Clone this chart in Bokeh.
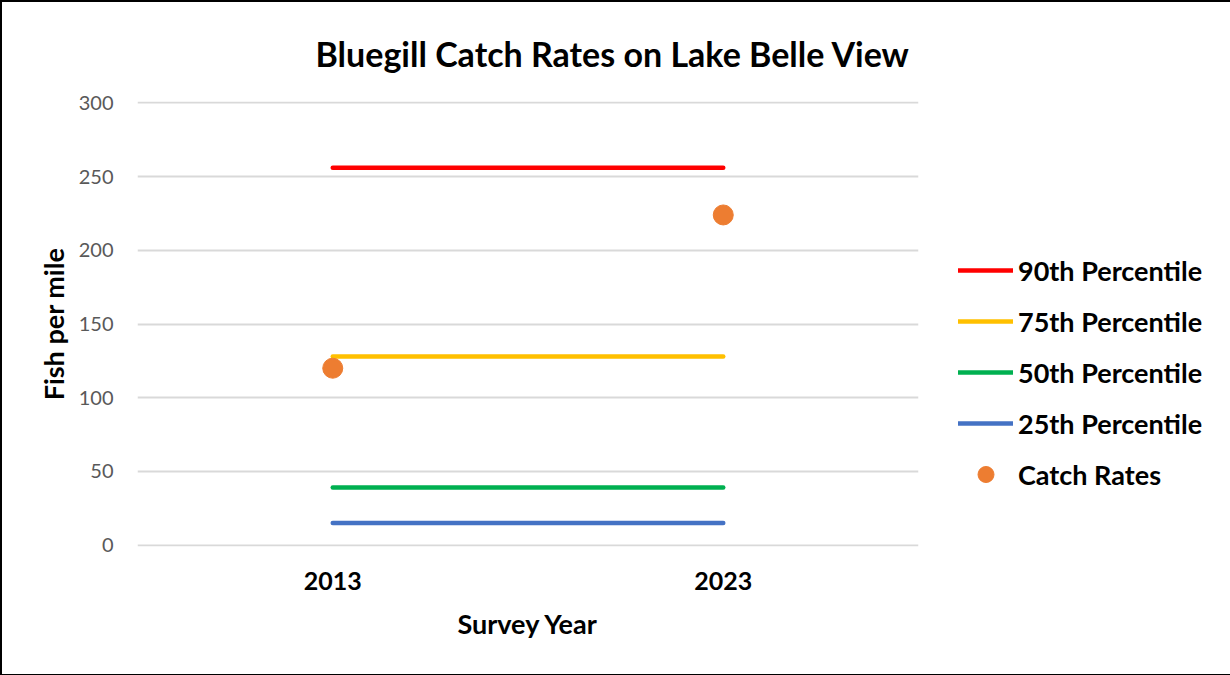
from bokeh.plotting import figure
from bokeh.models import FixedTicker, Legend, LegendItem, Range1d, FactorRange
from bokeh.embed import file_html
from bokeh.resources import INLINE

years = ["2013", "2023"]
p90 = [256, 256]
p75 = [128, 128]
p50 = [39, 39]
p25 = [15, 15]
catch_rates = [120, 224]
y_ticks = [0, 50, 100, 150, 200, 250, 300]

FONT = "Lato"

p = figure(frame_width=781, frame_height=445, x_range=FactorRange(*years, range_padding=0),
           y_range=Range1d(-1, 301), output_backend="svg", toolbar_location=None,
           min_border_left=135, min_border_right=310, min_border_top=98, min_border_bottom=128,
           title="Bluegill Catch Rates on Lake Belle View")
p.x_range.factor_padding = 0
p.styles = {"border": "2px solid #000000"}

p.title.text_font = FONT
p.title.text_font_style = "bold"
p.title.text_font_size = "34px"
p.title.text_color = "#000000"
p.title.align = "left"
p.title.offset = 178
p.title.standoff = 56

p.outline_line_color = None
p.xgrid.grid_line_color = None
p.ygrid.grid_line_color = "#D9D9D9"
p.ygrid.grid_line_width = 2
p.yaxis.ticker = FixedTicker(ticks=y_ticks)

for ax in (p.xaxis[0], p.yaxis[0]):
    ax.axis_line_color = None
    ax.major_tick_line_color = None
    ax.minor_tick_line_color = None

p.yaxis.major_label_text_font = FONT
p.yaxis.major_label_text_font_size = "20px"
p.yaxis.major_label_text_color = "#595959"
p.yaxis.major_label_standoff = 18
p.yaxis.axis_label = "Fish per mile"
p.yaxis.axis_label_text_font = FONT
p.yaxis.axis_label_text_font_style = "bold"
p.yaxis.axis_label_text_font_size = "27px"
p.yaxis.axis_label_text_color = "#000000"
p.yaxis.axis_label_standoff = 6

p.xaxis.major_label_text_font = FONT
p.xaxis.major_label_text_font_style = "bold"
p.xaxis.major_label_text_font_size = "25px"
p.xaxis.major_label_text_color = "#000000"
p.xaxis.major_label_standoff = 19
p.xaxis.axis_label = "Survey Year"
p.xaxis.axis_label_text_font = FONT
p.xaxis.axis_label_text_font_style = "bold"
p.xaxis.axis_label_text_font_size = "27px"
p.xaxis.axis_label_text_color = "#000000"
p.xaxis.axis_label_standoff = 14

r90 = p.line(years, p90, line_color="#FF0000", line_width=4.5, line_cap="round")
r75 = p.line(years, p75, line_color="#FFC000", line_width=4.5, line_cap="round")
r50 = p.line(years, p50, line_color="#00B050", line_width=4.5, line_cap="round")
r25 = p.line(years, p25, line_color="#4472C4", line_width=4.5, line_cap="round")
rc = p.scatter(years, catch_rates, size=20, fill_color="#ED7D31", line_color="#ED7D31")

legend = Legend(items=[
    LegendItem(label="90th Percentile", renderers=[r90]),
    LegendItem(label="75th Percentile", renderers=[r75]),
    LegendItem(label="50th Percentile", renderers=[r50]),
    LegendItem(label="25th Percentile", renderers=[r25]),
    LegendItem(label="Catch Rates", renderers=[rc]),
], location=(40, 52))
legend.border_line_color = None
legend.background_fill_alpha = 0
legend.padding = 0
legend.margin = 0
legend.spacing = 11
legend.glyph_width = 55
legend.glyph_height = 40
legend.label_height = 40
legend.label_standoff = 5
legend.label_text_font = FONT
legend.label_text_font_style = "bold"
legend.label_text_font_size = "27px"
legend.label_text_color = "#000000"
p.add_layout(legend, "right")

open("out.html", "w").write(file_html(p, INLINE))
